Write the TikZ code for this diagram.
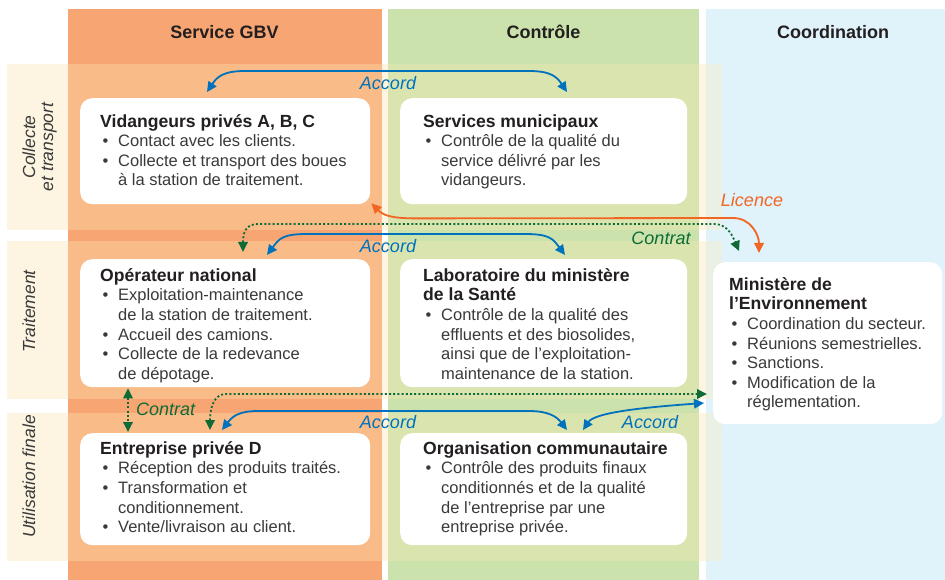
\documentclass[tikz,border=0pt]{standalone}
\usepackage{fontspec}
\setmainfont{Liberation Sans}
\usetikzlibrary{arrows.meta,calc}
\definecolor{gbv}{HTML}{F7A673}
\definecolor{gbvl}{HTML}{F9BB87}
\definecolor{ctl}{HTML}{CCE2AC}
\definecolor{ctll}{HTML}{DAE4AF}
\definecolor{crd}{HTML}{E0F2FA}
\definecolor{crdl}{HTML}{EAF0E4}
\definecolor{cream}{HTML}{FDF5E2}
\definecolor{bluec}{HTML}{0071BC}
\definecolor{orangec}{HTML}{F26522}
\definecolor{greenc}{HTML}{0E6B36}
\definecolor{txt}{HTML}{231F20}
\definecolor{bodyc}{HTML}{3A3A3A}
\newcommand{\bul}{\makebox[18pt][l]{\hspace{2.5pt}\textbullet}}
\newcommand{\ind}{\hspace*{18pt}}
\newcommand{\ttl}[1]{{\fontsize{17.6}{19.6}\selectfont\bfseries\color{txt}#1}}
\newcommand{\fst}{\rule{0pt}{14pt}}
\tikzset{
  box/.style={fill=white, rounded corners=12pt, inner sep=0pt, anchor=north west},
  boxtext/.style={anchor=north west, inner sep=0pt, align=left,
    font=\fontsize{16.5}{19.6}\selectfont, text=bodyc},
  hdr/.style={font=\fontsize{18}{20}\selectfont\bfseries, text=txt, anchor=base, inner sep=0pt},
  rowlbl/.style={font=\fontsize{17.5}{18}\selectfont\itshape, text=bodyc, rotate=90, inner sep=0pt, align=center},
  lbl/.style={font=\fontsize{18}{20}\selectfont\itshape, inner sep=0pt, anchor=base},
  conn/.style={line width=1.8pt, {Triangle[length=10pt,width=9.5pt]}-{Triangle[length=10pt,width=9.5pt]}},
  acc/.style={conn, draw=bluec},
  lic/.style={conn, draw=orangec},
  dots/.style={conn, draw=greenc, dash pattern=on 2pt off 2.2pt},
}
\begin{document}
\begin{tikzpicture}[x=1pt,y=-1pt]
\useasboundingbox (0,0) rectangle (945,580);
\fill[white] (0,0) rectangle (945,580);
% columns
\fill[gbv] (68,9) rectangle (382,580);
\fill[ctl] (388,9) rectangle (699,580);
\fill[crd] (706,9) rectangle (945,580);
% row bands
\foreach \ya/\yb in {64/230, 241/399, 413/561}{
  \fill[cream] (7,\ya) rectangle (68,\yb);
  \fill[gbvl] (68,\ya) rectangle (382,\yb);
  \fill[cream] (382,\ya) rectangle (388,\yb);
  \fill[ctll] (388,\ya) rectangle (699,\yb);
  \fill[cream] (699,\ya) rectangle (706,\yb);
  \fill[crdl] (706,\ya) rectangle (722,\yb);
}
% headers
\node[hdr] (h1) at (224.5,39) {Service GBV};
\node[hdr] (h2) at (543.5,39) {Contrôle};
\node[hdr] (h3) at (833,39) {Coordination};
% row labels
\node[rowlbl, anchor=center] (r1) at (39.5,147) {Collecte\\et transport};
\node[rowlbl, anchor=base] (r2) at (35,311.5) {Traitement};
\node[rowlbl, anchor=base] (r3) at (35,476.5) {Utilisation finale};
% boxes
\node[box, minimum width=290pt, minimum height=106pt] (vid) at (80,98) {};
\node[box, minimum width=287pt, minimum height=106pt] (mun) at (400,98) {};
\node[box, minimum width=290pt, minimum height=128pt] (op) at (80,259) {};
\node[box, minimum width=287pt, minimum height=128pt] (lab) at (400,259) {};
\node[box, minimum width=229pt, minimum height=162pt] (min) at (713,262) {};
\node[box, minimum width=290pt, minimum height=112pt] (ent) at (80,433) {};
\node[box, minimum width=287pt, minimum height=112pt] (org) at (400,433) {};
% box texts
\node[boxtext] (vidt) at ([xshift=20pt,yshift=-15pt]vid.north west)
 {\fst\ttl{Vidangeurs privés A, B, C}\\
  \bul Contact avec les clients.\\
  \bul Collecte et transport des boues\\
  \ind à la station de traitement.};
\node[boxtext] (munt) at ([xshift=23pt,yshift=-15pt]mun.north west)
 {\fst\ttl{Services municipaux}\\
  \bul Contrôle de la qualité du\\
  \ind service délivré par les\\
  \ind vidangeurs.};
\node[boxtext] (opt) at ([xshift=20pt,yshift=-8pt]op.north west)
 {\fst\ttl{Opérateur national}\\
  \bul Exploitation-maintenance\\
  \ind de la station de traitement.\\
  \bul Accueil des camions.\\
  \bul Collecte de la redevance\\
  \ind de dépotage.};
\node[boxtext] (labt) at ([xshift=23pt,yshift=-8pt]lab.north west)
 {\fst\ttl{Laboratoire du ministère}\\
  \ttl{de la Santé}\\
  \bul Contrôle de la qualité des\\
  \ind effluents et des biosolides,\\
  \ind ainsi que de l’exploitation-\\
  \ind maintenance de la station.};
\node[boxtext] (mint) at ([xshift=16pt,yshift=-14pt]min.north west)
 {\fst\ttl{Ministère de}\\
  \ttl{l’Environnement}\\
  \bul Coordination du secteur.\\
  \bul Réunions semestrielles.\\
  \bul Sanctions.\\
  \bul Modification de la\\
  \ind réglementation.};
\node[boxtext] (entt) at ([xshift=20pt,yshift=-7pt]ent.north west)
 {\fst\ttl{Entreprise privée D}\\
  \bul Réception des produits traités.\\
  \bul Transformation et\\
  \ind conditionnement.\\
  \bul Vente/livraison au client.};
\node[boxtext] (orgt) at ([xshift=23pt,yshift=-7pt]org.north west)
 {\fst\ttl{Organisation communautaire}\\
  \bul Contrôle des produits finaux\\
  \ind conditionnés et de la qualité\\
  \ind de l’entreprise par une\\
  \ind entreprise privée.};
% connectors
\draw[acc] ([xshift=127pt,yshift=6pt]vid.north west) .. controls +(10,-15) and +(-22,0) ..
  ([xshift=165pt,yshift=27pt]vid.north west) -- ([xshift=129pt,yshift=27pt]mun.north west)
  .. controls +(22,0) and +(-10,-15) .. ([xshift=167pt,yshift=6pt]mun.north west);
\draw[lic] ([xshift=1pt,yshift=1pt]vid.south east) .. controls +(12,12) and +(-25,0) ..
  ([xshift=46pt,yshift=-14pt]vid.south east) -- ([xshift=20pt,yshift=44pt]min.north west)
  .. controls +(18,0) and +(0,-18) .. ([xshift=46pt,yshift=9pt]min.north west);
\draw[dots] ([xshift=163pt,yshift=7pt]op.north west) .. controls +(0,-20) and +(-12,0) ..
  ([xshift=178pt,yshift=35pt]op.north west) -- ([xshift=1pt,yshift=38pt]min.north west)
  .. controls +(14,0) and +(-6,-14) .. ([xshift=26pt,yshift=11pt]min.north west);
\draw[acc] ([xshift=187pt,yshift=4pt]op.north west) .. controls +(12,-16) and +(-25,0) ..
  ([xshift=227pt,yshift=25pt]op.north west) -- ([xshift=125pt,yshift=25pt]lab.north west)
  .. controls +(25,0) and +(-12,-16) .. ([xshift=165pt,yshift=4pt]lab.north west);
\draw[dots] ([xshift=48pt,yshift=-1pt]op.south west) -- ([xshift=48pt,yshift=1pt]ent.north west);
\draw[dots] ([xshift=130pt,yshift=3pt]ent.north west) .. controls +(0,-22) and +(-12,0) ..
  ([xshift=146pt,yshift=39pt]ent.north west) -- ([xshift=-6pt,yshift=-132pt]min.north west);
\draw[acc] ([xshift=142pt,yshift=3pt]ent.north west) .. controls +(10,-13) and +(-20,0) ..
  ([xshift=178pt,yshift=22pt]ent.north west) -- ([xshift=129pt,yshift=22pt]org.north west)
  .. controls +(20,0) and +(-10,-13) .. ([xshift=167pt,yshift=3pt]org.north west);
\draw[acc] ([xshift=183pt,yshift=3pt]org.north west) .. controls +(12,-18) and +(-55,4) ..
  ([xshift=-9pt,yshift=-141pt]min.north west);
% labels
\node[lbl, text=bluec] (a1) at (388,90) {Accord};
\node[lbl, text=bluec] (a2) at (388,252) {Accord};
\node[lbl, text=bluec] (a3) at (388,428) {Accord};
\node[lbl, text=bluec] (a4) at (650,428) {Accord};
\node[lbl, text=orangec] (l1) at (752,207) {Licence};
\node[lbl, text=greenc] (c1) at (661,244) {Contrat};
\node[lbl, text=greenc, anchor=base west] (c2) at (136,415) {Contrat};
\end{tikzpicture}
\end{document}
